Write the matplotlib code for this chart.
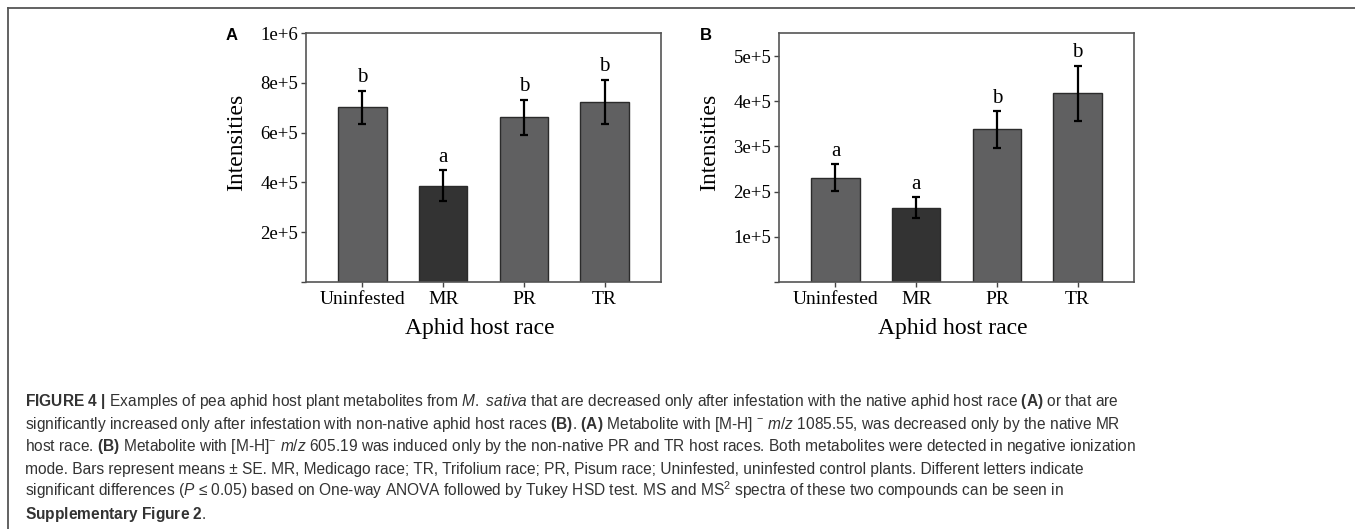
import matplotlib
matplotlib.use('Agg')
import matplotlib.pyplot as plt
from matplotlib.lines import Line2D

# data
categories = ['Uninfested', 'MR', 'PR', 'TR']
mean_a = [7.02e5, 3.86e5, 6.62e5, 7.24e5]
se_a = [6.6e4, 6.2e4, 7.0e4, 8.8e4]
letters_a = ['b', 'a', 'b', 'b']
ticks_a = [0, 2e5, 4e5, 6e5, 8e5, 1e6]
ticklabels_a = ['', '2e+5', '4e+5', '6e+5', '8e+5', '1e+6']

mean_b = [2.31e5, 1.64e5, 3.38e5, 4.18e5]
se_b = [3.0e4, 2.3e4, 4.05e4, 6.1e4]
letters_b = ['a', 'a', 'b', 'b']
ticks_b = [0, 1e5, 2e5, 3e5, 4e5, 5e5]
ticklabels_b = ['', '1e+5', '2e+5', '3e+5', '4e+5', '5e+5']

bar_colors = ['#606061', '#333333', '#606061', '#606061']

caption = [
    r"$\mathbf{FIGURE\ 4\ |}$ Examples of pea aphid host plant metabolites from $\mathit{M.}$ $\mathit{sativa}$ that are decreased only after infestation with the native aphid host race $\mathbf{(A)}$ or that are",
    r"significantly increased only after infestation with non-native aphid host races $\mathbf{(B)}$. $\mathbf{(A)}$ Metabolite with [M-H] $^{-}$ $\mathit{m/z}$ 1085.55, was decreased only by the native MR",
    r"host race. $\mathbf{(B)}$ Metabolite with [M-H]$^{-}$ $\mathit{m/z}$ 605.19 was induced only by the non-native PR and TR host races. Both metabolites were detected in negative ionization",
    r"mode. Bars represent means ± SE. MR, Medicago race; TR, Trifolium race; PR, Pisum race; Uninfested, uninfested control plants. Different letters indicate",
    r"significant differences ($\mathit{P}$ ≤ 0.05) based on One-way ANOVA followed by Tukey HSD test. MS and MS$^{2}$ spectra of these two compounds can be seen in",
    r"$\mathbf{Supplementary\ Figure\ 2}$.",
]

plt.rcParams['font.family'] = ['Liberation Serif', 'DejaVu Serif']
plt.rcParams['mathtext.fontset'] = 'custom'
plt.rcParams['mathtext.rm'] = 'Liberation Sans'
plt.rcParams['mathtext.it'] = 'Liberation Sans:italic'
plt.rcParams['mathtext.bf'] = 'Liberation Sans:bold'

W, H = 1355, 529
fig = plt.figure(figsize=(W / 100, H / 100), dpi=100)

# outer frame (top and left lines only)
fig.add_artist(Line2D([8 / W, 1], [1 - 8 / H, 1 - 8 / H], color='#555555', lw=1.3))
fig.add_artist(Line2D([8 / W, 8 / W], [0, 1 - 8 / H], color='#555555', lw=1.3))


def panel(left, means, ses, letters, ticks, ticklabels, ymax, tag, tag_x):
    ax = fig.add_axes([left / W, 1 - 282 / H, 355 / W, 249 / H])
    x = range(len(categories))
    ax.bar(x, means, width=0.6, color=bar_colors, edgecolor='#2b2b2b', linewidth=1.0, zorder=2)
    ax.errorbar(x, means, yerr=ses, fmt='none', ecolor='black', elinewidth=1.6,
                capsize=3, capthick=1.6, zorder=3)
    for xi, m, s, l in zip(x, means, ses, letters):
        ax.annotate(l, (xi, m + s), xytext=(0, 6), textcoords='offset points',
                    ha='center', va='baseline', fontsize=15)
    ax.set_xlim(-0.7, 3.7)
    ax.set_ylim(0, ymax)
    ax.set_xticks(list(x))
    ax.set_xticklabels(categories, fontsize=14)
    ax.set_yticks(ticks)
    ax.set_yticklabels(ticklabels, fontsize=13.5)
    ax.tick_params(direction='out', length=3.5, width=1, color='#444444', pad=2)
    ax.tick_params(axis='x', pad=3)
    for sp in ax.spines.values():
        sp.set_color('#555555')
        sp.set_linewidth(1.2)
    ax.set_ylabel('Intensities', fontsize=17, va='center')
    ax.yaxis.set_label_coords(-0.195, 0.56)
    ax.set_xlabel('Aphid host race', fontsize=17, va='center')
    ax.xaxis.set_label_coords(0.49, -0.185)
    fig.text(tag_x / W, 1 - 36 / H, tag, family='Liberation Sans', fontweight='bold',
             fontsize=12, ha='center', va='center')
    return ax


panel(306, mean_a, se_a, letters_a, ticks_a, ticklabels_a, 1e6, 'A', 232)
panel(779, mean_b, se_b, letters_b, ticks_b, ticklabels_b, 5.51e5, 'B', 706)

for i, line in enumerate(caption):
    fig.text(25 / W, 1 - (406 + i * 22.6) / H, line, family='Liberation Sans',
             fontsize=11.2, color='#333333', ha='left', va='baseline')

plt.savefig('out.png', dpi=100)
